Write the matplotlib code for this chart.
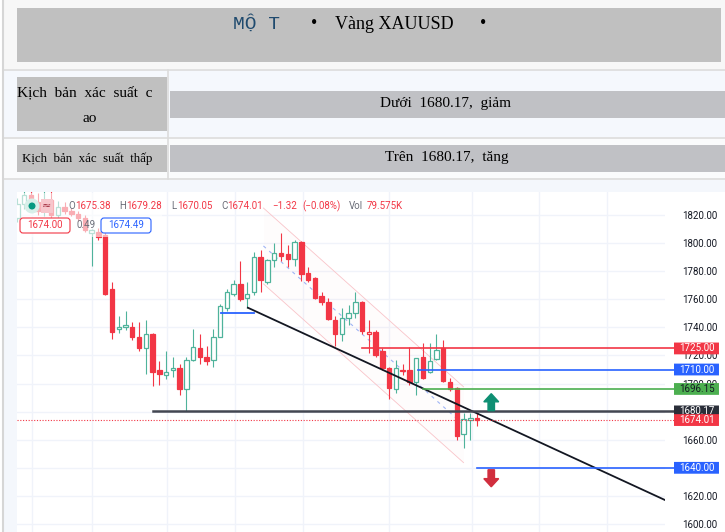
import matplotlib
matplotlib.use('Agg')
import matplotlib.pyplot as plt
from matplotlib.patches import Rectangle, FancyArrow, FancyBboxPatch, Circle
from matplotlib.transforms import blended_transform_factory

# --- candle data (daily XAUUSD)
opens = [1818, 1828, 1834, 1829, 1823, 1831, 1820, 1826, 1823, 1820.5,
         1818, 1807, 1808, 1806, 1767, 1739, 1740, 1740, 1733, 1725,
         1735, 1710, 1706, 1710, 1711, 1696, 1717, 1725, 1719, 1717,
         1733, 1754, 1764, 1771, 1761, 1765, 1790, 1772, 1788, 1793,
         1792, 1789, 1801, 1779, 1775, 1762, 1758, 1745, 1735, 1747,
         1750, 1758, 1735, 1737, 1723, 1711, 1696, 1710, 1710, 1701,
         1719, 1708, 1717.5, 1725, 1701, 1697, 1664, 1674, 1675.38]
highs = [1832, 1838, 1841, 1836, 1838, 1840, 1830, 1829, 1825, 1823,
         1820, 1810, 1811, 1808, 1772, 1748, 1752, 1744, 1744, 1745,
         1736, 1716, 1723, 1719, 1714, 1719, 1739, 1735, 1727, 1739,
         1757, 1767, 1774, 1787, 1772, 1794, 1795, 1789, 1800, 1807,
         1799, 1802, 1801.5, 1783, 1776, 1765, 1761, 1748, 1754, 1756,
         1765, 1758.5, 1745, 1738, 1725, 1712, 1717, 1714, 1726, 1718,
         1729, 1729, 1735, 1731, 1704, 1697.5, 1679, 1679, 1679.28]
lows = [1815, 1824, 1826, 1820, 1819, 1818, 1817, 1821, 1819, 1816,
        1808, 1784, 1802, 1763, 1732, 1736, 1738, 1731, 1723, 1707,
        1698, 1699, 1703, 1705, 1692, 1680.2, 1716, 1714, 1713, 1712,
        1733, 1752, 1762, 1759, 1754, 1763, 1765, 1771, 1783, 1787,
        1783, 1784, 1773, 1772, 1760, 1756, 1745, 1727, 1730, 1742,
        1747, 1735, 1722, 1719, 1710, 1689, 1693, 1706, 1699, 1692,
        1703, 1707.5, 1717, 1701, 1695, 1660, 1654, 1660, 1670.05]
closes = [1828, 1834, 1829, 1823, 1831, 1820, 1826, 1823, 1820.5, 1818,
          1809, 1809, 1804.5, 1764, 1737, 1740, 1742, 1733, 1725, 1735,
          1708, 1707, 1708, 1711, 1696, 1717, 1726, 1719, 1716, 1733,
          1755, 1765, 1771, 1760, 1764, 1790, 1774, 1788, 1793, 1791,
          1789, 1801, 1778, 1774, 1761, 1758, 1746, 1735, 1747, 1750,
          1758, 1737.5, 1736.5, 1720, 1711, 1697, 1711, 1709, 1701, 1718,
          1704, 1716, 1724, 1702, 1696, 1663, 1675, 1675.4, 1674.01]

price_ticks = [1600, 1620, 1640, 1660, 1680, 1700, 1720, 1740, 1760, 1780, 1800, 1820]
hidden_ticks = [1640, 1680]   # fully covered by the price tags
grid_x = [2.2, 11.1, 22.2, 32.2, 42.2, 55, 67.2, 77.2, 87.2]

# horizontal levels: value, start candle, colour, label text colour
levels = [1725.00, 1710.00, 1696.15, 1680.17, 1640.00]
level_start = [51, 59.3, 60, 20.1, 68]
level_colors = ['#f23645', '#2962ff', '#4caf50', '#434651', '#2962ff']
level_text = ['white', 'white', '#131722', 'white', 'white']
last_price = 1674.01

trend_x = [34.1, 97]
trend_y = [1754, 1614.4]
chan_x = [36.4, 66]
chan_top = [1825, 1697.7]
chan_mid = [1798, 1670.7]
chan_bot = [1771, 1643.7]
short_x = [30.1, 35.0]
short_y = 1750

green = '#4fb39b'
red = '#f23645'

fig = plt.figure(figsize=(7.25, 5.32), dpi=100)

# ---------- header table, drawn in pixel coords
hax = fig.add_axes([0, 0, 1, 1])
hax.set_xlim(0, 725)
hax.set_ylim(532, 0)
hax.axis('off')

def box(x0, y0, x1, y1, color, z=1):
    hax.add_patch(Rectangle((x0, y0), x1 - x0, y1 - y0, facecolor=color, edgecolor='none', zorder=z))

box(3, 0, 725, 69, '#f7f7f7')
box(17, 8, 721, 62, '#c0c0c0', 2)
box(3, 70, 725, 137, '#f5f8fd')
box(3, 138, 725, 179, '#fafbfc')
box(17, 77, 167, 131, '#c0c0c0', 2)
box(170, 91, 725, 118, '#c0c1c5', 2)
box(17, 145, 167, 172, '#c0c0c0', 2)
box(170, 145, 725, 172, '#c0c1c5', 2)
for yy in [69.5, 137.5, 179]:
    hax.plot([3, 725], [yy, yy], color='#dcdcdc', lw=1.2, zorder=3)
hax.plot([168.5, 168.5], [70, 179], color='#dcdcdc', lw=1.2, zorder=3)
hax.plot([3, 3], [0, 532], color='#d6d6d6', lw=1.5, zorder=3)

serif = 'Liberation Serif'
hax.text(233, 29, 'MỘ T', family='Liberation Mono', fontsize=14, color='#1f4a6e',
         va='baseline', ha='left', zorder=4)
hax.text(314, 24, '•', family=serif, fontsize=13, color='black', va='center', ha='center', zorder=4)
hax.text(335, 29, 'Vàng XAUUSD', family=serif, fontsize=13, color='black',
         va='baseline', ha='left', zorder=4)
hax.text(483, 24, '•', family=serif, fontsize=13, color='black', va='center', ha='center', zorder=4)

hax.text(17, 96, 'Kịch  bản  xác  suất  c', family=serif, fontsize=11, va='baseline', ha='left', zorder=4)
hax.text(90, 122, 'ao', family=serif, fontsize=11, va='baseline', ha='center', zorder=4)
hax.text(446, 104, 'Dưới  1680.17,  giảm', family=serif, fontsize=11, va='center', ha='center', zorder=4)
hax.text(22, 162, 'Kịch  bản  xác  suất  thấp', family=serif, fontsize=9.3, va='baseline', ha='left', zorder=4)
hax.text(447, 158, 'Trên  1680.17,  tăng', family=serif, fontsize=11, va='center', ha='center', zorder=4)

# chart panel frame
box(3, 180, 725, 532, '#f4f7fc')
box(17, 192, 725, 532, 'white', 2)

# ---------- candle chart
ax = fig.add_axes([17 / 725, 0, 648 / 725, (532 - 192) / 532])
ax.set_facecolor('white')
ax.set_xlim(-0.05, 95.8)
ax.set_ylim(1594.3, 1836.4)
for s in ax.spines.values():
    s.set_visible(False)
ax.set_xticks([])
ax.yaxis.tick_right()
ax.set_yticks(price_ticks)
ax.set_yticklabels(['' if p in hidden_ticks else '%.2f' % p for p in price_ticks],
                   family='Roboto', fontsize=7, color='#131722')
ax.tick_params(axis='y', length=0, pad=12)
for p in price_ticks:
    ax.axhline(p, color='#f0f3fa', lw=1, zorder=0)
for gx in grid_x:
    ax.axvline(gx, color='#f0f3fa', lw=1, zorder=0)

# channel
ax.fill_between(chan_x, chan_bot, chan_top, color='#f23645', alpha=0.012, lw=0, zorder=1)
ax.plot(chan_x, chan_top, color='#f9c4c9', lw=0.6, zorder=1)
ax.plot(chan_x, chan_bot, color='#f9c4c9', lw=0.6, zorder=1)
ax.plot(chan_x, chan_mid, color='#9fb4f5', lw=0.8, ls=(0, (3, 4)), zorder=1)

w = 0.66
for i in range(len(opens)):
    o, h, l, c = opens[i], highs[i], lows[i], closes[i]
    prev = closes[i - 1] if i > 0 else o
    col = green if c >= prev else red
    ax.vlines(i, l, h, color=col, lw=0.8, zorder=2)
    bot = min(o, c)
    ht = max(abs(c - o), 0.6)
    if c > o:
        ax.add_patch(Rectangle((i - w / 2, bot), w, ht, facecolor='white', edgecolor=col, lw=0.9, zorder=3))
    else:
        ax.add_patch(Rectangle((i - w / 2, bot), w, ht, facecolor=col, edgecolor=col, lw=0.9, zorder=3))

# lines
ax.plot(trend_x, trend_y, color='#131722', lw=1.3, zorder=4)
ax.plot(short_x, [short_y, short_y], color='#2962ff', lw=1.3, zorder=4)
xr = 95.8 + 1.35
for v, st, col in zip(levels, level_start, level_colors):
    lw = 1.8 if col == '#434651' else 1.2
    ax.plot([st, xr], [v, v], color=col, lw=lw, zorder=4, clip_on=False)
ax.plot([-0.05, xr], [last_price, last_price], color=red, lw=0.8, ls=(0, (1, 1.5)), zorder=4, clip_on=False)

# right axis price tags
bt = blended_transform_factory(ax.transAxes, ax.transData)
tags = levels + [last_price]
tag_colors = level_colors[:3] + ['#2a2e39'] + [level_colors[4]] + [red]
tag_text = level_text[:3] + ['white', 'white', 'white']
for v, col, tc in zip(tags, tag_colors, tag_text):
    ax.add_patch(FancyBboxPatch((1.0139, v - 4.2), 0.0694, 8.4, boxstyle='round,pad=0,rounding_size=0.004',
                                transform=bt, facecolor=col, edgecolor='none', clip_on=False, zorder=6))
    ax.text(1.0486, v, '%.2f' % v, transform=bt, family='Roboto', fontsize=7, color=tc,
            ha='center', va='center', zorder=7, clip_on=False)

# arrows
ax.add_patch(FancyArrow(70.1, 1680.7, 0, 12.1, width=0.95, head_width=2.2, head_length=5.8,
                        length_includes_head=True, color='#0e8f73', zorder=5))
ax.add_patch(FancyArrow(70.1, 1638.6, 0, -12.1, width=0.95, head_width=2.2, head_length=5.8,
                        length_includes_head=True, color='#d12e3e', zorder=5))

# legend overlay (pixel coords)
pt = hax.transData
ax.add_patch(Rectangle((17, 193), 145, 44, transform=pt, facecolor='white', alpha=0.6,
                       edgecolor='none', zorder=5, clip_on=False))
ax.add_patch(Circle((32, 206), 7.5, transform=pt, facecolor='#d8efe9', edgecolor='none', zorder=6, clip_on=False))
ax.add_patch(Circle((32, 206), 3.5, transform=pt, facecolor='#089981', edgecolor='none', zorder=7, clip_on=False))
ax.add_patch(Rectangle((41, 199), 12, 14, transform=pt, facecolor='#f7c6cc', edgecolor='none', zorder=6, clip_on=False))
ax.text(47, 206, '≈', transform=pt, fontsize=8, color='#a0283a', ha='center', va='center', zorder=7)

leg = [(68, 'O', '#6a6d78'), (75, '1675.38', red), (119, 'H', '#6a6d78'), (126, '1679.28', red),
       (171, 'L', '#6a6d78'), (177, '1670.05', red), (221, 'C', '#6a6d78'), (227, '1674.01', red),
       (272, '−1.32', red), (302, '(−0.08%)', red), (349, 'Vol', '#6a6d78'), (367, '79.575K', red)]
for lx, s, col in leg:
    ax.text(lx, 206, s, transform=pt, family='Roboto', fontsize=7, color=col, ha='left', va='center',
            zorder=7, clip_on=False)

ax.add_patch(FancyBboxPatch((20, 218), 50, 15, transform=pt, boxstyle='round,pad=0,rounding_size=3',
                            facecolor='white', edgecolor=red, lw=0.8, zorder=6, clip_on=False))
ax.text(45, 225.5, '1674.00', transform=pt, family='Roboto', fontsize=7, color=red, ha='center', va='center', zorder=7)
ax.text(86, 225.5, '0.49', transform=pt, family='Roboto', fontsize=7, color='#6a6d78', ha='center', va='center', zorder=7)
ax.add_patch(FancyBboxPatch((101, 218), 50, 15, transform=pt, boxstyle='round,pad=0,rounding_size=3',
                            facecolor='white', edgecolor='#2962ff', lw=0.8, zorder=6, clip_on=False))
ax.text(126, 225.5, '1674.49', transform=pt, family='Roboto', fontsize=7, color='#2962ff', ha='center', va='center', zorder=7)

fig.savefig('out.png', dpi=100)
